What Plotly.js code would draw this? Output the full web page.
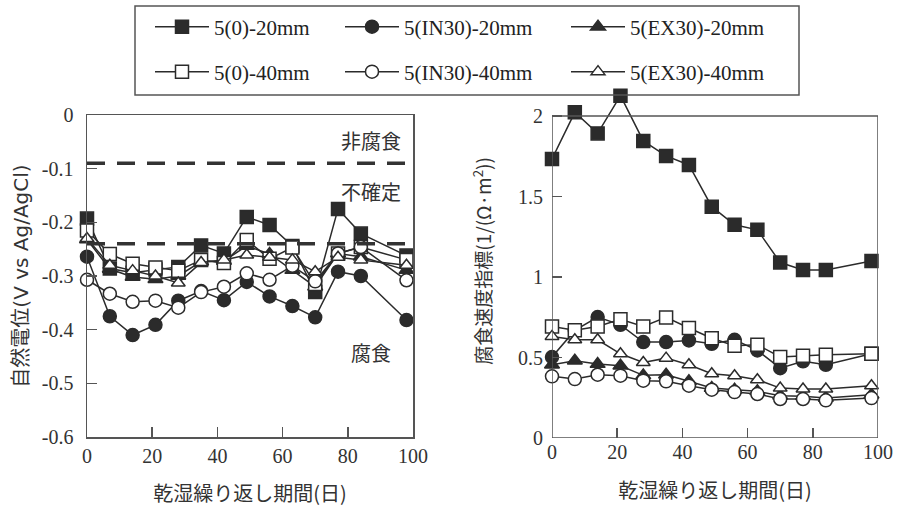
<!DOCTYPE html>
<html>
<head>
<meta charset="utf-8">
<script src="https://cdn.plot.ly/plotly-3.0.1.min.js"></script>
<style>html,body{margin:0;padding:0;background:#fff;}#chart{width:898px;height:507px;}</style>
</head>
<body>
<div id="chart"></div>
<script>
// ---- data ----
var days = [0, 7, 14, 21, 28, 35, 42, 49, 56, 63, 70, 77, 84, 98];
var seriesNames = ["5(0)-20mm", "5(IN30)-20mm", "5(EX30)-20mm", "5(0)-40mm", "5(IN30)-40mm", "5(EX30)-40mm"];

// natural potential (V vs Ag/AgCl)
var pot_0_20    = [-0.193, -0.286, -0.294, -0.288, -0.283, -0.243, -0.258, -0.190, -0.205, -0.244, -0.330, -0.175, -0.221, -0.262];
var pot_IN30_20 = [-0.264, -0.375, -0.410, -0.391, -0.346, -0.328, -0.345, -0.311, -0.338, -0.356, -0.377, -0.292, -0.300, -0.382];
var pot_EX30_20 = [-0.232, -0.287, -0.302, -0.306, -0.300, -0.273, -0.272, -0.244, -0.259, -0.289, -0.320, -0.258, -0.264, -0.289];
var pot_0_40    = [-0.215, -0.259, -0.277, -0.284, -0.290, -0.270, -0.276, -0.233, -0.268, -0.247, -0.315, -0.258, -0.246, -0.270];
var pot_IN30_40 = [-0.307, -0.333, -0.348, -0.346, -0.359, -0.330, -0.320, -0.295, -0.307, -0.281, -0.310, -0.258, -0.246, -0.308];
var pot_EX30_40 = [-0.230, -0.280, -0.290, -0.300, -0.313, -0.275, -0.270, -0.261, -0.265, -0.270, -0.292, -0.265, -0.270, -0.280];

// corrosion rate index 1/(Ω·m²)
var rate_0_20    = [1.733, 2.023, 1.892, 2.126, 1.845, 1.752, 1.696, 1.437, 1.324, 1.293, 1.090, 1.044, 1.044, 1.100];
var rate_IN30_20 = [0.503, 0.668, 0.751, 0.703, 0.596, 0.596, 0.606, 0.585, 0.610, 0.544, 0.434, 0.476, 0.455, 0.523];
var rate_EX30_20 = [0.455, 0.480, 0.459, 0.449, 0.389, 0.393, 0.352, 0.310, 0.300, 0.290, 0.263, 0.259, 0.248, 0.269];
var rate_0_40    = [0.693, 0.670, 0.693, 0.738, 0.693, 0.749, 0.683, 0.620, 0.573, 0.579, 0.503, 0.511, 0.517, 0.523];
var rate_IN30_40 = [0.383, 0.366, 0.393, 0.387, 0.356, 0.352, 0.325, 0.300, 0.285, 0.273, 0.242, 0.242, 0.234, 0.248];
var rate_EX30_40 = [0.631, 0.610, 0.610, 0.523, 0.469, 0.496, 0.455, 0.399, 0.387, 0.362, 0.310, 0.304, 0.304, 0.325];

// threshold potentials
var thresholds = [-0.09, -0.24];
var zoneLabels = ["非腐食", "不確定", "腐食"];
var zoneLabelY = [-0.048, -0.143, -0.442];

var xTicks = [0, 20, 40, 60, 80, 100];
var potTicks = [0, -0.1, -0.2, -0.3, -0.4, -0.5, -0.6];
var rateTicks = [0, 0.5, 1, 1.5, 2];

var potData = [pot_0_20, pot_IN30_20, pot_EX30_20, pot_0_40, pot_IN30_40, pot_EX30_40];
var rateData = [rate_0_20, rate_IN30_20, rate_EX30_20, rate_0_40, rate_IN30_40, rate_EX30_40];

// ---- styles ----
var INK = '#2b2b2b';
var symbols = ['square', 'circle', 'triangle-up', 'square', 'circle', 'triangle-up'];
var fills = [INK, INK, INK, '#ffffff', '#ffffff', '#ffffff'];
var sizes = [13, 13, 13, 13, 13, 12];
var legendIds = ['legend', 'legend2', 'legend3', 'legend4', 'legend5', 'legend6'];

var traces = [];
for (var i = 0; i < 6; i++) {
  traces.push({
    type: 'scatter', mode: 'lines+markers', x: days, y: potData[i],
    name: seriesNames[i], legend: legendIds[i], legendgroup: 'g' + i,
    xaxis: 'x', yaxis: 'y', cliponaxis: false,
    line: {color: INK, width: 1.5},
    marker: {symbol: symbols[i], size: sizes[i], color: fills[i], line: {color: INK, width: 1.5}}
  });
}
for (var j = 0; j < 6; j++) {
  var sym = symbols[j];
  if (j === 1) { sym = days.map(function (d, k) { return k === days.length - 1 ? 'square' : 'circle'; }); }
  traces.push({
    type: 'scatter', mode: 'lines+markers', x: days, y: rateData[j],
    name: seriesNames[j], legendgroup: 'g' + j, showlegend: false,
    xaxis: 'x2', yaxis: 'y2', cliponaxis: false,
    line: {color: INK, width: 1.5},
    marker: {symbol: sym, size: sizes[j], color: fills[j], line: {color: INK, width: 1.5}}
  });
}

var W = 898, H = 507;
function px(x) { return x / W; }
function py(y) { return 1 - y / H; }

var SERIF = "'Liberation Serif', 'Times New Roman', serif";
var tickFont = {family: SERIF, size: 20, color: '#333'};
var xTitleFont = {family: "'Noto Sans CJK JP', sans-serif", size: 20, color: '#333'};

var shapes = [];
thresholds.forEach(function (t) {
  shapes.push({type: 'line', xref: 'x', yref: 'y', x0: 0, x1: 100, y0: t, y1: t,
    line: {color: '#333', width: 3.5, dash: '18px,12px'}});
});
// frame of right plot (axis range goes above 2 so that points can exceed the frame)
shapes.push({type: 'rect', xref: 'x2', yref: 'y2', x0: 0, x1: 100, y0: 0, y1: 2,
  line: {color: '#555', width: 1.5}, layer: 'above'});
// legend box
shapes.push({type: 'rect', xref: 'paper', yref: 'paper', x0: px(135), x1: px(799), y0: py(95), y1: py(6),
  line: {color: '#555', width: 1.5}});

var annotations = zoneLabels.map(function (t, k) {
  return {xref: 'x', yref: 'y', x: 87, y: zoneLabelY[k], text: t, showarrow: false,
    font: {family: "'Noto Sans CJK JP', sans-serif", size: 20, color: '#333'}};
});

var legendPos = [[150, 27], [340, 27], [566, 27], [150, 72], [340, 72], [566, 72]];
var layout = {
  width: W, height: H,
  margin: {l: 0, r: 0, t: 0, b: 0},
  paper_bgcolor: '#fff', plot_bgcolor: '#fff',
  showlegend: true,
  xaxis: {domain: [px(87), px(413)], range: [0, 100], tickvals: xTicks, ticks: 'inside', ticklen: 10,
    tickwidth: 1.5, tickcolor: '#555', showgrid: false, zeroline: false, showline: true, mirror: true,
    linecolor: '#555', linewidth: 1.5, tickfont: tickFont, anchor: 'y',
    title: {text: '乾湿繰り返し期間(日)', font: xTitleFont, standoff: 21}},
  yaxis: {domain: [py(437), py(115)], range: [-0.6, 0], tickvals: potTicks, ticktext: potTicks.map(String),
    ticks: 'inside', ticklen: 10, tickwidth: 1.5, tickcolor: '#555', showgrid: false, zeroline: false,
    showline: true, mirror: true, linecolor: '#555', linewidth: 1.5, tickfont: tickFont, anchor: 'x',
    ticklabelstandoff: 8,
    title: {text: '自然電位(V vs Ag/AgCl)', font: {family: "'DejaVu Sans', 'Noto Sans CJK JP', sans-serif", size: 20, color: '#333'}, standoff: 8}},
  xaxis2: {domain: [px(552), px(878)], range: [0, 100], tickvals: xTicks, ticks: 'inside', ticklen: 10,
    tickwidth: 1.5, tickcolor: '#555', showgrid: false, zeroline: false, showline: false,
    tickfont: tickFont, anchor: 'y2',
    title: {text: '乾湿繰り返し期間(日)', font: xTitleFont, standoff: 21}},
  yaxis2: {domain: [py(438), py(438 - 2.2 * 161)], range: [0, 2.2], tickvals: rateTicks, ticktext: rateTicks.map(String),
    ticks: 'inside', ticklen: 10, tickwidth: 1.5, tickcolor: '#555', showgrid: false, zeroline: false,
    showline: false, tickfont: tickFont, anchor: 'x2', ticklabelstandoff: 8,
    title: {text: '腐食速度指標(1/(Ω·m<sup>2</sup>))', font: {family: "'Noto Sans CJK JP', sans-serif", size: 19, color: '#333'}, standoff: 21}},
  shapes: shapes,
  annotations: annotations
};
legendIds.forEach(function (id, k) {
  layout[id] = {x: px(legendPos[k][0]), y: py(legendPos[k][1]), xanchor: 'left', yanchor: 'middle',
    xref: 'paper', yref: 'paper', bgcolor: 'rgba(0,0,0,0)', borderwidth: 0, itemwidth: 54,
    font: {family: SERIF, size: 21, color: '#222'}};
});

Plotly.newPlot('chart', traces, layout, {displayModeBar: false, staticPlot: true});
</script>
</body>
</html>
